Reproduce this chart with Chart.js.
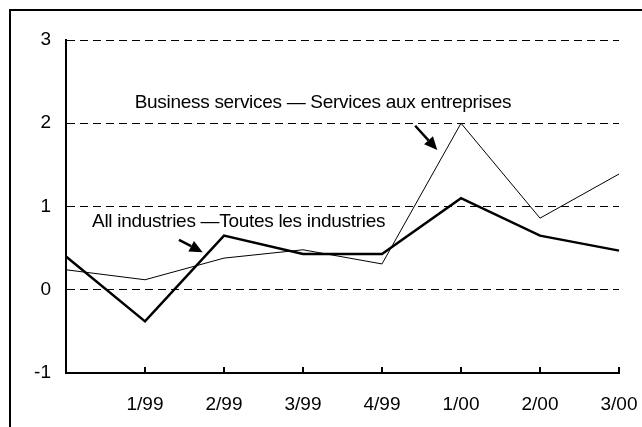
<!DOCTYPE html>
<html>
<head>
<meta charset="utf-8">
<script src="https://cdn.jsdelivr.net/npm/chart.js@4/dist/chart.umd.min.js"></script>
<style>
  html, body { margin: 0; padding: 0; background: #fff; overflow: hidden; }
  #wrap { position: relative; width: 642px; height: 427px; }
  #frame { position: absolute; left: 9px; top: 9px; width: 700px; height: 500px; border: 2px solid #000; box-sizing: border-box; }
  canvas { position: absolute; left: 0; top: 0; }
</style>
</head>
<body>
<div id="wrap">
  <div id="frame"></div>
  <canvas id="chart" width="642" height="427"></canvas>
</div>
<script>
// quarters (first point is 4/98, left unlabelled)
const quarters = ['', '1/99', '2/99', '3/99', '4/99', '1/00', '2/00', '3/00'];
const allIndustries = [0.40, -0.38, 0.65, 0.43, 0.43, 1.10, 0.65, 0.47];
const businessServices = [0.24, 0.12, 0.38, 0.48, 0.31, 2.00, 0.86, 1.39];
const yTicks = [-1, 0, 1, 2, 3];

const FONT = '"Liberation Sans", Arial, sans-serif';

// callouts in data units: [x index, y value]
const callouts = [
  { text: 'Business services \u2014 Services aux entreprises', at: [0.87, 2.25], from: [4.42, 1.97], to: [4.70, 1.68] },
  { text: 'All industries \u2014Toutes les industries', at: [0.33, 0.82], from: [1.43, 0.60], to: [1.73, 0.45] }
];

const decorations = {
  id: 'decorations',
  afterDraw(chart) {
    const { ctx, scales: { x, y } } = chart;
    ctx.save();
    // inward tick marks on the category axis
    ctx.strokeStyle = '#000';
    ctx.lineWidth = 2;
    const yb = y.getPixelForValue(-1);
    for (let i = 1; i < quarters.length; i++) {
      const px = Math.round(x.getPixelForValue(i));
      ctx.beginPath();
      ctx.moveTo(px, yb);
      ctx.lineTo(px, yb - 6);
      ctx.stroke();
    }
    // labels with arrows
    ctx.fillStyle = '#000';
    ctx.font = '19px ' + FONT;
    ctx.letterSpacing = '-0.3px';
    ctx.textBaseline = 'middle';
    ctx.textAlign = 'left';
    callouts.forEach(c => {
      ctx.fillText(c.text, x.getPixelForValue(c.at[0]), y.getPixelForValue(c.at[1]));
      const x0 = x.getPixelForValue(c.from[0]), y0 = y.getPixelForValue(c.from[1]);
      const x1 = x.getPixelForValue(c.to[0]), y1 = y.getPixelForValue(c.to[1]);
      const ang = Math.atan2(y1 - y0, x1 - x0);
      const head = 13, half = 6;
      const bx = x1 - head * Math.cos(ang), by = y1 - head * Math.sin(ang);
      ctx.lineWidth = 2.5;
      ctx.beginPath();
      ctx.moveTo(x0, y0);
      ctx.lineTo(bx, by);
      ctx.stroke();
      ctx.beginPath();
      ctx.moveTo(x1, y1);
      ctx.lineTo(bx + half * Math.sin(ang), by - half * Math.cos(ang));
      ctx.lineTo(bx - half * Math.sin(ang), by + half * Math.cos(ang));
      ctx.closePath();
      ctx.fill();
    });
    ctx.restore();
  }
};

new Chart(document.getElementById('chart').getContext('2d'), {
  type: 'line',
  data: {
    labels: quarters,
    datasets: [
      {
        label: 'All industries',
        data: allIndustries,
        borderColor: '#000',
        borderWidth: 2.5,
        pointRadius: 0,
        tension: 0
      },
      {
        label: 'Business services',
        data: businessServices,
        borderColor: '#000',
        borderWidth: 1,
        pointRadius: 0,
        tension: 0
      }
    ]
  },
  options: {
    responsive: false,
    animation: false,
    layout: { padding: { top: 40, right: 23, left: 0, bottom: 0 } },
    plugins: { legend: { display: false }, tooltip: { enabled: false } },
    scales: {
      x: {
        grid: { display: false },
        border: { display: true, color: '#000', width: 2 },
        ticks: { color: '#000', font: { family: FONT, size: 19 }, padding: 12, maxRotation: 0, autoSkip: false },
        afterFit: (s) => { s.height = 54; s.paddingLeft = 0; s.paddingRight = 0; }
      },
      y: {
        min: -1,
        max: 3,
        afterBuildTicks: (s) => { s.ticks = yTicks.map(v => ({ value: v })); },
        grid: {
          drawTicks: false,
          color: (c) => c.tick.value === -1 ? 'rgba(0,0,0,0)' : '#000',
          lineWidth: 1
        },
        // border.dash is applied to the grid lines in v4
        border: { display: true, color: '#000', width: 2, dash: [8, 5] },
        ticks: { color: '#000', font: { family: FONT, size: 19 }, padding: 15 },
        afterFit: (s) => { s.width = 66; s.paddingTop = 0; s.paddingBottom = 0; }
      }
    }
  },
  plugins: [decorations]
});
</script>
</body>
</html>
